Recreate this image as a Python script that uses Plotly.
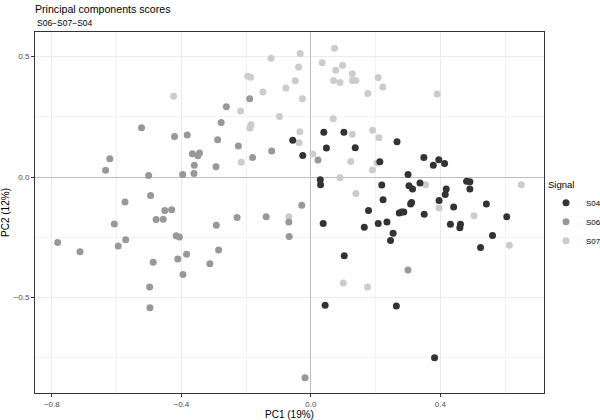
import plotly.graph_objects as go

# PC scores, one list pair per signal
s04_pc1 = [-0.056, 0.040, 0.102, 0.048, 0.137, 0.266, -0.025, 0.213, 0.029, 0.030,
           0.219, 0.223, 0.178, 0.273, 0.038, 0.165, 0.208, 0.235, 0.254, 0.246,
           0.103, 0.044, 0.264, 0.349, 0.378, 0.395, 0.413, 0.300, 0.303, 0.314,
           0.337, 0.418, 0.415, 0.481, 0.491, 0.491, 0.396, 0.441, 0.542, 0.280,
           0.287, 0.308, 0.311, 0.350, 0.605, 0.431, 0.462, 0.460, 0.561, 0.524,
           0.382]
s04_pc2 = [0.153, 0.186, 0.186, 0.121, 0.122, 0.147, 0.090, 0.064, -0.011, -0.032,
           -0.033, -0.094, -0.139, -0.149, -0.193, -0.208, -0.193, -0.186, -0.233, -0.263,
           -0.326, -0.532, -0.535, 0.081, 0.049, 0.072, 0.056, 0.011, -0.036, -0.049,
           -0.025, -0.049, -0.072, -0.017, -0.019, -0.049, -0.097, -0.124, -0.112, -0.145,
           -0.145, -0.112, -0.105, -0.154, -0.165, -0.196, -0.196, -0.210, -0.242, -0.292,
           -0.750]

s06_pc1 = [-0.261, -0.277, -0.523, -0.421, -0.382, -0.288, -0.366, -0.349, -0.344, -0.360,
           -0.293, -0.621, -0.634, -0.501, -0.396, -0.361, -0.495, -0.574, -0.451, -0.430,
           -0.478, -0.456, -0.607, -0.292, -0.416, -0.406, -0.782, -0.713, -0.595, -0.572,
           -0.285, -0.384, -0.411, -0.487, -0.312, -0.395, -0.498, -0.497, -0.189, -0.224,
           -0.121, -0.180, 0.022, -0.028, -0.228, -0.138, -0.068, -0.067, -0.018, 0.300]
s06_pc2 = [0.292, 0.226, 0.205, 0.168, 0.175, 0.155, 0.097, 0.089, 0.100, 0.049,
           0.043, 0.076, 0.028, 0.007, 0.011, 0.015, -0.076, -0.103, -0.139, -0.136,
           -0.176, -0.175, -0.195, -0.200, -0.243, -0.249, -0.271, -0.310, -0.286, -0.260,
           -0.303, -0.320, -0.340, -0.353, -0.360, -0.404, -0.456, -0.542, 0.325, 0.129,
           0.108, 0.081, 0.071, -0.117, -0.168, -0.165, -0.186, -0.247, -0.833, -0.386]

s07_pc1 = [-0.424, 0.073, -0.033, -0.123, -0.038, 0.035, 0.098, 0.077, 0.128, -0.195,
           -0.186, -0.048, 0.070, 0.090, 0.128, 0.139, 0.208, 0.222, -0.077, -0.148,
           0.176, -0.026, -0.217, -0.097, 0.069, -0.185, -0.188, -0.034, -0.036, 0.191,
           0.128, 0.210, 0.006, -0.215, 0.123, 0.204, 0.190, 0.090, 0.139, -0.068,
           0.100, 0.175, 0.390, 0.354, 0.650, 0.396, 0.504, 0.613]
s07_pc2 = [0.335, 0.535, 0.513, 0.493, 0.457, 0.474, 0.464, 0.443, 0.429, 0.418,
           0.414, 0.400, 0.401, 0.392, 0.401, 0.401, 0.413, 0.374, 0.370, 0.353,
           0.347, 0.325, 0.274, 0.251, 0.242, 0.217, 0.204, 0.188, 0.142, 0.194,
           0.178, 0.163, 0.096, 0.061, 0.065, 0.058, 0.029, -0.003, -0.068, -0.165,
           -0.440, -0.456, 0.345, -0.032, -0.032, -0.128, -0.160, -0.283]

_FONT = "Liberation Sans, Arial, sans-serif"
_TICK = "#4D4D4D"
_EDGE = "#333333"

# drawn back to front; legend reversed so it reads S04, S06, S07
groups = [("S07", s07_pc1, s07_pc2, "#CCCCCC"),
          ("S06", s06_pc1, s06_pc2, "#989898"),
          ("S04", s04_pc1, s04_pc2, "#333333")]


def _axis(**kw):
    return dict(showline=True, mirror=True, linecolor=_EDGE, linewidth=1,
                ticks="outside", ticklen=3, tickcolor=_EDGE, tickwidth=1,
                tickfont=dict(size=8, color=_TICK), automargin=False,
                showgrid=True, gridcolor="#EBEBEB", gridwidth=1,
                zeroline=True, zerolinecolor="#BEBEBE", zerolinewidth=1,
                title_font=dict(size=10, color="black"), **kw)


fig = go.Figure()
for name, xs, ys, col in groups:
    fig.add_trace(go.Scatter(x=xs, y=ys, mode="markers", name=name,
                             marker=dict(color=col, size=7, line=dict(width=0))))

fig.update_layout(
    width=600, height=420,
    paper_bgcolor="white", plot_bgcolor="white",
    font=dict(family=_FONT, color="black"),
    margin=dict(l=35, r=56, t=32, b=27, autoexpand=False),
    title=dict(text="Principal components scores",
               font=dict(size=10.6, color="black"),
               x=35 / 600, xanchor="left",
               y=1 - 9 / 420, yref="container", yanchor="middle"),
    annotations=[dict(text="S06−S07−S04", font=dict(size=8.5, color="black"),
                      xref="paper", x=0, xanchor="left",
                      yref="paper", y=(393 - 23) / 361, yanchor="middle",
                      showarrow=False)],
    xaxis=_axis(title=dict(text="PC1 (19%)", standoff=4),
                range=[-0.852, 0.720], tickvals=[-0.8, -0.4, 0.0, 0.4],
                ticktext=["−0.8", "−0.4", "0.0", "0.4"],
                minor=dict(tickvals=[-0.6, -0.2, 0.2, 0.6], showgrid=True,
                           gridcolor="#F3F3F3", gridwidth=0.6, ticks="")),
    yaxis=_axis(title=dict(text="PC2 (12%)", standoff=4),
                range=[-0.896, 0.602], tickvals=[-0.5, 0.0, 0.5],
                ticktext=["−0.5", "0.0", "0.5"],
                minor=dict(tickvals=[-0.75, -0.25, 0.25], showgrid=True,
                           gridcolor="#F3F3F3", gridwidth=0.6, ticks="")),
    legend=dict(title=dict(text="Signal", font=dict(size=9.5)),
                font=dict(size=8), traceorder="reversed",
                xref="container", x=546 / 600, xanchor="left",
                yref="container", y=1 - 176 / 420, yanchor="top",
                itemwidth=30, tracegroupgap=0, bgcolor="rgba(0,0,0,0)"),
)

# the page's default 8px body margin would shift the 600x420 figure
fig.write_html("out.html", config={"displayModeBar": False},
               post_script="document.body.style.margin='0';")
